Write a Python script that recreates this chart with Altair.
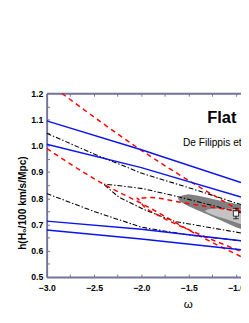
import altair as alt
import pandas as pd

# ---------------- data ----------------
X_MIN, X_MAX = -3.0, -0.947
Y_MIN, Y_MAX = 0.5, 1.2

x_label_ticks = [-3.0, -2.5, -2.0, -1.5, -1.0]
x_all_ticks = [-3.0, -2.75, -2.5, -2.25, -2.0, -1.75, -1.5, -1.25, -1.0]
y_label_ticks = [0.5, 0.6, 0.7, 0.8, 0.9, 1.0, 1.1, 1.2]
y_all_ticks = [0.5, 0.55, 0.6, 0.65, 0.7, 0.75, 0.8, 0.85, 0.9, 0.95, 1.0, 1.05, 1.1, 1.15, 1.2]

# blue solid lines
blue1_w = [-3.0, -2.0, -0.947]
blue1_h = [1.095, 0.985, 0.860]
blue2_w = [-3.0, -2.0, -0.947]
blue2_h = [1.006, 0.917, 0.805]
blue3_w = [-3.0, -2.0, -0.947]
blue3_h = [0.713, 0.682, 0.638]
blue4_w = [-3.0, -2.0, -0.947]
blue4_h = [0.679, 0.645, 0.604]

# black dash-dot lines
black1_w = [-3.0, -2.5, -2.0, -1.45, -0.947]
black1_h = [1.048, 0.969, 0.896, 0.835, 0.776]
black2_w = [-3.0, -2.5, -2.0, -1.5, -0.947]
black2_h = [0.818, 0.750, 0.690, 0.660, 0.638]
black3_w = [-0.947, -1.6, -1.97, -2.2, -2.4, -2.24, -1.97, -1.65, -0.947]
black3_h = [0.745, 0.805, 0.836, 0.847, 0.854, 0.805, 0.757, 0.712, 0.668]

# red dashed lines
red1_w = [-2.84, -2.0, -0.947]
red1_h = [1.2, 0.983, 0.750]
red2_w = [-3.0, -2.4, -1.97, -1.36, -0.947]
red2_h = [0.990, 0.854, 0.775, 0.652, 0.578]
red3_w = [-0.947, -1.3, -1.62, -1.9, -2.05, -1.97, -1.82, -1.4, -0.947]
red3_h = [0.750, 0.768, 0.787, 0.803, 0.800, 0.768, 0.735, 0.665, 0.598]

# grey confidence regions
dark_w = [-1.614, -1.59, -1.55, -1.5, -1.4, -1.3, -1.2, -1.1, -1.0, -0.947]
dark_hi = [0.798, 0.808, 0.813, 0.815, 0.810, 0.802, 0.794, 0.786, 0.779, 0.775]
dark_lo = [0.798, 0.788, 0.779, 0.770, 0.754, 0.738, 0.722, 0.706, 0.690, 0.683]
light_w = [-1.33, -1.3, -1.25, -1.2, -1.1, -1.0, -0.947]
light_hi = [0.752, 0.757, 0.760, 0.761, 0.761, 0.759, 0.757]
light_lo = [0.752, 0.745, 0.737, 0.731, 0.720, 0.708, 0.701]

# measured point
pt_w = [-1.0]
pt_h = [0.742]
pt_lo = [0.722]
pt_hi = [0.762]

title_text = "Flat"
ref_text = "De Filippis et al."

# ---------------- chart ----------------
FONT = "Liberation Sans"
AXIS_COLOR = "#72729a"


def lines_df(series):
    rows = []
    for name, ws, hs in series:
        for i, (w, h) in enumerate(zip(ws, hs)):
            rows.append({"series": name, "w": w, "h": h, "i": i})
    return pd.DataFrame(rows)


xs = alt.Scale(domain=[X_MIN, X_MAX], nice=False, zero=False)
ys = alt.Scale(domain=[Y_MIN, Y_MAX], nice=False, zero=False)

X = alt.X("w:Q", scale=xs, axis=None)
Y = alt.Y("h:Q", scale=ys, axis=None)

blue_df = lines_df([("b1", blue1_w, blue1_h), ("b2", blue2_w, blue2_h),
                    ("b3", blue3_w, blue3_h), ("b4", blue4_w, blue4_h)])
black_df = lines_df([("k1", black1_w, black1_h), ("k2", black2_w, black2_h),
                     ("k3", black3_w, black3_h)])
red_df = lines_df([("r1", red1_w, red1_h), ("r2", red2_w, red2_h),
                   ("r3", red3_w, red3_h)])

dark_df = pd.DataFrame({"w": dark_w, "hi": dark_hi, "lo": dark_lo})
light_df = pd.DataFrame({"w": light_w, "hi": light_hi, "lo": light_lo})
pt_df = pd.DataFrame({"w": pt_w, "h": pt_h, "lo": pt_lo, "hi": pt_hi})

dark = alt.Chart(dark_df).mark_area(color="#808080", clip=True).encode(
    x=alt.X("w:Q", scale=xs, axis=None),
    y=alt.Y("hi:Q", scale=ys, axis=None),
    y2="lo:Q",
)
light = alt.Chart(light_df).mark_area(color="#c4c4c4", clip=True).encode(
    x=alt.X("w:Q", scale=xs, axis=None),
    y=alt.Y("hi:Q", scale=ys, axis=None),
    y2="lo:Q",
)

black = alt.Chart(black_df).mark_line(
    color="black", strokeWidth=1.1, strokeDash=[5, 2, 1.5, 2], clip=True
).encode(x=X, y=Y, detail="series:N", order="i:Q")

red = alt.Chart(red_df).mark_line(
    color="#ff0000", strokeWidth=1.5, strokeDash=[5, 4], clip=True,
    interpolate="monotone"
).encode(x=X, y=Y, detail="series:N", order="i:Q")

blue = alt.Chart(blue_df).mark_line(
    color="#0a14f0", strokeWidth=1.5, clip=True
).encode(x=X, y=Y, detail="series:N", order="i:Q")

err = alt.Chart(pt_df).mark_rule(color="black", strokeWidth=1).encode(
    x=X, y=alt.Y("lo:Q", scale=ys, axis=None), y2="hi:Q")
cap_lo = alt.Chart(pt_df).mark_tick(color="black", orient="horizontal", size=6, thickness=1).encode(
    x=X, y=alt.Y("lo:Q", scale=ys, axis=None))
cap_hi = alt.Chart(pt_df).mark_tick(color="black", orient="horizontal", size=6, thickness=1).encode(
    x=X, y=alt.Y("hi:Q", scale=ys, axis=None))
pt = alt.Chart(pt_df).mark_point(shape="square", filled=True, fill="white",
                                 stroke="black", strokeWidth=0.8, size=30, opacity=1).encode(x=X, y=Y)

dummy = pd.DataFrame({"w": [-2.0], "h": [0.8]})

axes_main = alt.Chart(dummy).mark_point(opacity=0).encode(
    x=alt.X("w:Q", scale=xs, axis=alt.Axis(
        orient="bottom", values=x_label_ticks, format=".1f", ticks=False,
        domain=True, domainColor=AXIS_COLOR, domainWidth=2,
        labelFont=FONT, labelFontWeight="bold", labelFontSize=9, labelColor="black",
        labelPadding=7, labelFlush=False, grid=False,
        title="ω", titleFont=FONT, titleFontWeight="normal", titleFontSize=12,
        titleColor="black", titleX=146, titleY=28, titleBaseline="middle", titleAlign="center")),
    y=alt.Y("h:Q", scale=ys, axis=alt.Axis(
        orient="left", values=y_label_ticks, format=".1f", ticks=False,
        domain=True, domainColor=AXIS_COLOR, domainWidth=2,
        labelFont=FONT, labelFontWeight="bold", labelFontSize=9, labelColor="black",
        labelPadding=4, labelFlush=False, grid=False,
        title="h(H₀/100 km/s/Mpc)", titleFont=FONT, titleFontWeight="bold", titleFontSize=10.5,
        titleColor="black", titleX=-25, titleY=113, titleBaseline="middle", titleAlign="center",
        titleAngle=270)),
)

axes_ticks = alt.Chart(dummy).mark_point(opacity=0).encode(
    x=alt.X("w:Q", scale=xs, axis=alt.Axis(
        orient="bottom", values=x_all_ticks, offset=-3, tickSize=3, tickColor=AXIS_COLOR,
        tickWidth=1, labels=False, domain=False, grid=False, title=None)),
    y=alt.Y("h:Q", scale=ys, axis=alt.Axis(
        orient="left", values=y_all_ticks, offset=-3, tickSize=3, tickColor=AXIS_COLOR,
        tickWidth=1, labels=False, domain=False, grid=False, title=None)),
)

axes_top = alt.Chart(dummy).mark_point(opacity=0).encode(
    x=alt.X("w:Q", scale=xs, axis=alt.Axis(
        orient="top", values=x_all_ticks, ticks=False, labels=False,
        domain=True, domainColor=AXIS_COLOR, domainWidth=2, grid=False, title=None)),
    y=alt.Y("h:Q", scale=ys, axis=None),
)

axes_top_ticks = alt.Chart(dummy).mark_point(opacity=0).encode(
    x=alt.X("w:Q", scale=xs, axis=alt.Axis(
        orient="top", values=x_all_ticks, offset=-3, tickSize=3, tickColor=AXIS_COLOR,
        tickWidth=1, labels=False, domain=False, grid=False, title=None)),
    y=alt.Y("h:Q", scale=ys, axis=None),
)

txt_df = pd.DataFrame({"a": [0]})
title_mark = alt.Chart(txt_df).mark_text(
    text=title_text, font=FONT, fontSize=17, fontWeight="bold", align="left",
    baseline="alphabetic", color="black"
).encode(x=alt.value(166), y=alt.value(31))
ref_mark = alt.Chart(txt_df).mark_text(
    text=ref_text, font=FONT, fontSize=10.5, align="left",
    baseline="alphabetic", color="black"
).encode(x=alt.value(141), y=alt.value(54))

chart = alt.layer(
    dark, light, black, red, blue, err, cap_lo, cap_hi, pt,
    axes_main, axes_ticks, axes_top, axes_top_ticks, title_mark, ref_mark
).resolve_axis(x="independent", y="independent").properties(
    width=201, height=190,
    autosize=alt.AutoSizeParams(type="none"),
    padding={"left": 40, "top": 83, "right": 0, "bottom": 34},
).configure_view(stroke=None)

chart.save("out.html", embed_options={"renderer": "svg", "actions": False})
